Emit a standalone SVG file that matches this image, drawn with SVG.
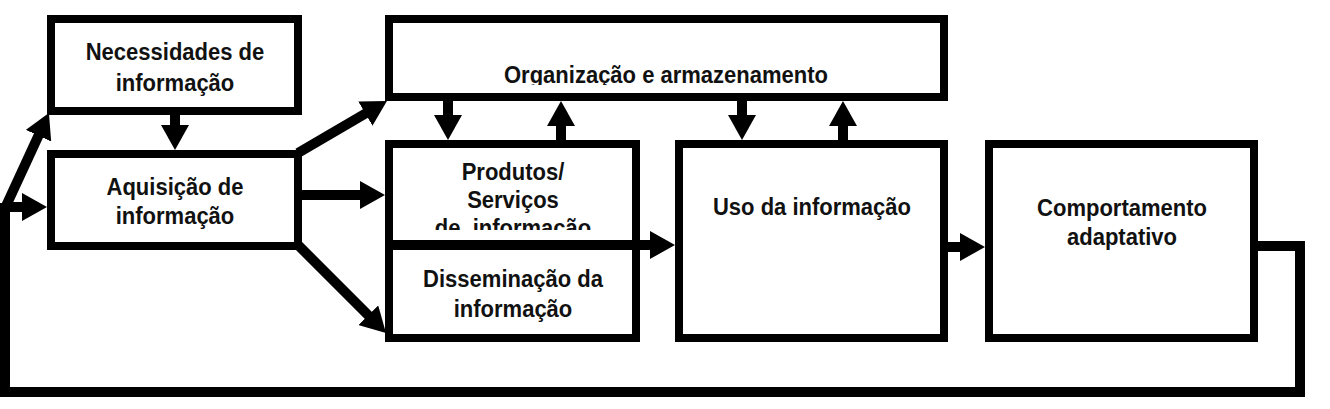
<svg xmlns="http://www.w3.org/2000/svg" width="1330" height="409" viewBox="0 0 1330 409">
<style>
.box{fill:#fff;stroke:#000;stroke-width:8}
.t{font-family:"Liberation Sans",Arial,sans-serif;font-weight:bold;font-size:24px;fill:#111;text-anchor:middle}
.c{fill:none;stroke:#000;stroke-width:10}
</style>
<defs>
<marker id="ah" markerUnits="userSpaceOnUse" markerWidth="26" markerHeight="28" refX="13" refY="14" orient="auto" viewBox="0 0 26 28">
<path d="M0,0 L25,14 L0,28 z" fill="#000"/>
</marker>
<clipPath id="clipOrg"><rect x="390" y="20" width="550" height="65"/></clipPath>
<clipPath id="clipProd"><rect x="390" y="145" width="245" height="85"/></clipPath>
</defs>
<rect width="1330" height="409" fill="#fff"/>
<g id="necessidades">
<rect class="box" x="51" y="19" width="247" height="92"/>
<text class="t" transform="matrix(0.917 0 0 1 175 60)">Necessidades de</text>
<text class="t" transform="matrix(0.917 0 0 1 175 91)">informação</text>
</g>
<g id="aquisicao">
<rect class="box" x="51" y="154" width="247" height="92"/>
<text class="t" transform="matrix(0.917 0 0 1 175 195)">Aquisição de</text>
<text class="t" transform="matrix(0.917 0 0 1 175 224)">informação</text>
</g>
<g id="organizacao">
<rect class="box" x="389" y="19" width="555" height="78"/>
<g clip-path="url(#clipOrg)">
<text class="t" transform="matrix(0.917 0 0 1 666 83)">Organização e armazenamento</text>
</g>
</g>
<g id="produtos">
<rect class="box" x="389" y="144" width="247" height="194"/>
<g clip-path="url(#clipProd)">
<text class="t" transform="matrix(0.917 0 0 1 513 180)">Produtos/</text>
<text class="t" transform="matrix(0.917 0 0 1 513 208)">Serviços</text>
<text class="t" transform="matrix(0.917 0 0 1 513 236)" xml:space="preserve">de  informação</text>
</g>
</g>
<g id="disseminacao">
<text class="t" transform="matrix(0.917 0 0 1 513 287)">Disseminação da</text>
<text class="t" transform="matrix(0.917 0 0 1 513 317)">informação</text>
</g>
<g id="uso">
<rect class="box" x="679" y="144" width="265" height="194"/>
<text class="t" transform="matrix(0.917 0 0 1 812 215)">Uso da informação</text>
</g>
<g id="comportamento">
<rect class="box" x="989" y="144" width="265" height="194"/>
<text class="t" transform="matrix(0.917 0 0 1 1122 216)">Comportamento</text>
<text class="t" transform="matrix(0.917 0 0 1 1122 245)">adaptativo</text>
</g>
<g id="connectors">
<line class="c" x1="175" y1="115" x2="175" y2="138" marker-end="url(#ah)"/>
<line class="c" x1="5" y1="207" x2="35" y2="207" marker-end="url(#ah)"/>
<line class="c" x1="6" y1="206" x2="43.9" y2="123.9" marker-end="url(#ah)"/>
<line class="c" x1="298" y1="153" x2="376.6" y2="107" marker-end="url(#ah)"/>
<line class="c" x1="302" y1="195" x2="373" y2="195" marker-end="url(#ah)"/>
<line class="c" x1="298" y1="245" x2="377.5" y2="324.5" marker-end="url(#ah)"/>
<line class="c" x1="448" y1="101" x2="448" y2="128" marker-end="url(#ah)"/>
<line class="c" x1="561" y1="140" x2="561" y2="113" marker-end="url(#ah)"/>
<line class="c" x1="742" y1="101" x2="742" y2="128" marker-end="url(#ah)"/>
<line class="c" x1="843" y1="140" x2="843" y2="113" marker-end="url(#ah)"/>
<line class="c" x1="389" y1="245" x2="663" y2="245" marker-end="url(#ah)"/>
<line class="c" x1="948" y1="247" x2="973" y2="247" marker-end="url(#ah)"/>
<polyline class="c" points="1258,246 1300,246 1300,392 5,392 5,203"/>
</g>
</svg>
